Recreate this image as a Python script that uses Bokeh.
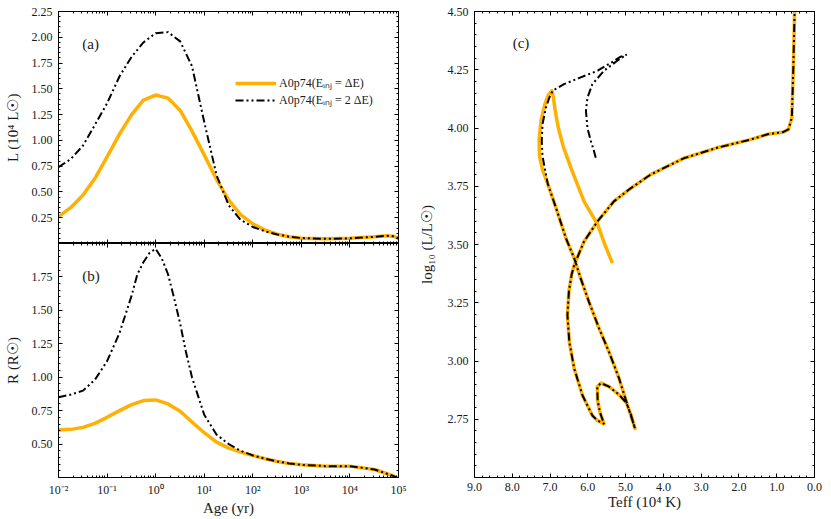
import numpy as np
from bokeh.plotting import figure
from bokeh.layouts import row, column
from bokeh.models import (LinearAxis, LogAxis, FixedTicker, PrintfTickFormatter,
                          CustomJSTickFormatter, Legend, LegendItem, Label, Range1d,
                          CustomLabelingPolicy)
from bokeh.embed import file_html
from bokeh.resources import INLINE

# ---------------- data ----------------
# panel (a): luminosity (1e4 Lsun) vs age (yr)
age_L_dE = [0.01, 0.018, 0.032, 0.056, 0.1, 0.18, 0.32, 0.56, 1.0, 1.8, 3.2, 5.6, 10, 18, 32, 56,
            100, 180, 320, 560, 1000, 3200, 1e4, 3.2e4, 5.6e4, 8e4, 1e5]
L_dE = [0.26, 0.35, 0.47, 0.63, 0.84, 1.06, 1.25, 1.39, 1.44, 1.41, 1.29, 1.09, 0.86, 0.62, 0.42, 0.28,
        0.19, 0.13, 0.09, 0.065, 0.052, 0.045, 0.05, 0.065, 0.075, 0.07, 0.05]
age_L_2dE = [0.01, 0.018, 0.032, 0.056, 0.1, 0.18, 0.32, 0.56, 1.0, 1.8, 3.2, 5.6, 10, 18, 32, 56,
             100, 180, 320, 560, 1000, 3200, 1e4, 3.2e4, 5.6e4, 8e4, 1e5]
L_2dE = [0.74, 0.82, 0.95, 1.15, 1.36, 1.62, 1.81, 1.95, 2.04, 2.05, 1.96, 1.72, 1.18, 0.66, 0.37, 0.23,
         0.16, 0.118, 0.088, 0.066, 0.053, 0.045, 0.05, 0.065, 0.075, 0.07, 0.05]

# panel (b): radius (Rsun) vs age (yr)
age_R_dE = [0.01, 0.018, 0.032, 0.056, 0.1, 0.18, 0.32, 0.56, 1.0, 1.8, 3.2, 5.6, 10, 18, 32, 56,
            100, 180, 320, 560, 1000, 3200, 1e4, 3.2e4, 5.6e4, 8e4, 1e5]
R_dE = [0.605, 0.61, 0.625, 0.655, 0.70, 0.75, 0.795, 0.825, 0.83, 0.80, 0.745, 0.665, 0.585, 0.515, 0.47, 0.44,
        0.415, 0.39, 0.37, 0.355, 0.345, 0.335, 0.335, 0.31, 0.28, 0.26, 0.24]
age_R_2dE = [0.01, 0.018, 0.032, 0.056, 0.1, 0.18, 0.32, 0.42, 0.56, 0.75, 1.0, 1.33, 1.8, 2.37, 3.2, 4.2,
             5.6, 10, 18, 32, 56, 100, 180, 320, 560, 1000, 3200, 1e4, 3.2e4, 5.6e4, 8e4, 1e5]
R_2dE = [0.85, 0.87, 0.90, 0.98, 1.12, 1.33, 1.61, 1.77, 1.86, 1.93, 1.96, 1.89, 1.77, 1.60, 1.40, 1.19,
         1.00, 0.72, 0.57, 0.50, 0.45, 0.415, 0.39, 0.37, 0.355, 0.345, 0.335, 0.335, 0.31, 0.28, 0.26, 0.24]

# panel (c): HR diagram, Teff (1e4 K) and log10 L/Lsun
teff_dE = [5.35, 5.55, 5.74, 6.10, 6.45, 6.65, 6.78, 6.86, 6.91, 6.95, 7.05, 7.14, 7.24, 7.29, 7.28, 7.20,
           7.06, 6.84, 6.58, 6.36, 6.18, 5.97, 5.70, 5.44, 5.17, 4.95, 4.75, 4.86, 4.98, 5.17, 5.44, 5.65,
           5.75, 5.74, 5.68, 5.57, 5.75, 5.88, 6.14, 6.36, 6.49, 6.54, 6.50, 6.43, 6.36, 6.10, 5.74, 5.31,
           4.91, 4.34, 3.46, 2.58, 1.70, 1.24, 0.82, 0.69, 0.60, 0.56, 0.52]
logL_dE = [3.42, 3.50, 3.585, 3.685, 3.83, 3.92, 4.00, 4.07, 4.13, 4.16, 4.14, 4.10, 4.03, 3.95, 3.88, 3.82,
           3.76, 3.656, 3.527, 3.441, 3.35, 3.254, 3.139, 3.039, 2.924, 2.81, 2.71, 2.77, 2.82, 2.855, 2.89, 2.905,
           2.89, 2.83, 2.78, 2.73, 2.745, 2.766, 2.852, 2.967, 3.082, 3.197, 3.30, 3.37, 3.412, 3.513, 3.60, 3.685,
           3.736, 3.80, 3.87, 3.915, 3.95, 3.973, 3.983, 3.994, 4.044, 4.26, 4.55]
teff_2dE = [5.79, 5.85, 5.92, 6.01, 6.05, 6.01, 5.88, 5.57, 5.22, 4.97, 5.13, 5.39, 5.74, 6.19, 6.63, 6.93,
            7.02, 7.11, 7.20, 7.22, 7.20, 7.12, 7.06,
            6.84, 6.58, 6.36, 6.18, 5.97, 5.70, 5.44, 5.17, 4.95, 4.75, 4.86, 4.98, 5.17, 5.44, 5.65,
            5.75, 5.74, 5.68, 5.57, 5.75, 5.88, 6.14, 6.36, 6.49, 6.54, 6.50, 6.43, 6.36, 6.10, 5.74, 5.31,
            4.91, 4.34, 3.46, 2.58, 1.70, 1.24, 0.82, 0.69, 0.60, 0.56, 0.52]
logL_2dE = [3.872, 3.908, 3.944, 4.00, 4.073, 4.13, 4.188, 4.246, 4.289, 4.315, 4.306, 4.28, 4.246, 4.217, 4.188, 4.16,
            4.13, 4.087, 4.016, 3.944, 3.88, 3.81, 3.76,
            3.656, 3.527, 3.441, 3.35, 3.254, 3.139, 3.039, 2.924, 2.81, 2.71, 2.77, 2.82, 2.855, 2.89, 2.905,
            2.89, 2.83, 2.78, 2.73, 2.745, 2.766, 2.852, 2.967, 3.082, 3.197, 3.30, 3.37, 3.412, 3.513, 3.60, 3.685,
            3.736, 3.80, 3.87, 3.915, 3.95, 3.973, 3.983, 3.994, 4.044, 4.26, 4.55]

label_dE = "A0p74(E\u1d62\u2099\u2c7c = \u0394E)"
label_2dE = "A0p74(E\u1d62\u2099\u2c7c = 2 \u0394E)"

# ---------------- style ----------------
FONT = "Liberation Serif"
ORANGE = "#FFB000"
TXT = "#1a1a1a"
DASH = "8 3 2 3 2 3"

log_major = [10.0 ** k for k in range(-2, 6)]
log_minor = [m * 10.0 ** k for k in range(-2, 5) for m in range(2, 10)]

SUP_JS = """
const s = {'-':'\u207b','0':'\u2070','1':'\u00b9','2':'\u00b2','3':'\u00b3','4':'\u2074',
           '5':'\u2075','6':'\u2076','7':'\u2077','8':'\u2078','9':'\u2079'};
const e = Math.round(Math.log10(tick));
return '10' + String(e).split('').map(c => s[c]).join('');
"""


def style_axis(ax, show_labels=True):
    ax.major_tick_in = 4
    ax.major_tick_out = 0
    ax.minor_tick_in = 2
    ax.minor_tick_out = 0
    ax.axis_line_color = "black"
    ax.major_tick_line_color = "black"
    ax.minor_tick_line_color = "black"
    ax.major_label_text_font = FONT
    ax.major_label_text_font_size = "12px"
    ax.major_label_text_color = TXT
    ax.major_label_standoff = 6
    ax.axis_label_text_font = FONT
    ax.axis_label_text_font_size = "15px"
    ax.axis_label_text_font_style = "normal"
    ax.axis_label_text_color = TXT
    ax.axis_label_standoff = 8
    if not show_labels:
        ax.major_label_text_font_size = "0px"
        ax.major_label_standoff = 0
        ax.axis_label = None
        ax.major_label_policy = CustomLabelingPolicy(
            code="for (const i of indices) { indices.unset(i) }\nreturn indices")


def lin_ticker(lo, hi, step, minor_step):
    major = [round(v, 4) for v in np.arange(lo, hi + 1e-9, step)]
    minor = [round(minor_step * k, 4) for k in range(0, int(round(10 / minor_step)) + 1)]
    return FixedTicker(ticks=major, minor_ticks=minor)


def make_log_axis(show_labels):
    ax = LogAxis(ticker=FixedTicker(ticks=log_major, minor_ticks=log_minor),
                 formatter=CustomJSTickFormatter(code=SUP_JS))
    style_axis(ax, show_labels)
    return ax


def base_fig(**kw):
    p = figure(output_backend="svg", toolbar_location=None, title=None,
               x_axis_location=None, y_axis_location=None, **kw)
    p.grid.visible = False
    p.outline_line_color = "black"
    p.outline_line_width = 1
    p.background_fill_color = "white"
    p.border_fill_color = "white"
    return p


x_age = Range1d(1e-2, 1e5)

# ---------------- panel (a) ----------------
p1 = base_fig(width=415, height=243, x_axis_type="log", x_range=x_age, y_range=Range1d(0, 2.25),
              min_border_left=58, min_border_right=17, min_border_top=11, min_border_bottom=0)
ya = LinearAxis(ticker=lin_ticker(0.25, 2.25, 0.25, 0.05), formatter=PrintfTickFormatter(format="%.2f"),
                axis_label="L (10\u2074 L\u2609)")
style_axis(ya)
p1.add_layout(ya, "left")
yar = LinearAxis(ticker=lin_ticker(0.25, 2.25, 0.25, 0.05))
style_axis(yar, False)
p1.add_layout(yar, "right")
p1.add_layout(make_log_axis(False), "below")
p1.add_layout(make_log_axis(False), "above")

r1 = p1.line(age_L_dE, L_dE, line_color=ORANGE, line_width=3.5, line_join="round")
r2 = p1.line(age_L_2dE, L_2dE, line_color="black", line_width=2, line_dash=DASH)
leg = Legend(items=[LegendItem(label=label_dE, renderers=[r1]),
                    LegendItem(label=label_2dE, renderers=[r2])],
             location=(177, 135), padding=0, margin=0, spacing=0,
             glyph_width=41, glyph_height=14, label_height=14, label_standoff=3,
             label_text_font=FONT, label_text_font_size="12px", label_text_color=TXT,
             border_line_alpha=0, background_fill_alpha=0)
p1.add_layout(leg)
p1.add_layout(Label(x=0.031, y=1.93, text="(a)", text_baseline="middle", text_align="left",
                    text_font=FONT, text_font_size="15px", text_color=TXT))

# ---------------- panel (b) ----------------
p2 = base_fig(width=415, height=276, x_axis_type="log", x_range=x_age, y_range=Range1d(0.25, 2.0),
              min_border_left=58, min_border_right=17, min_border_top=0, min_border_bottom=42)
yb = LinearAxis(ticker=lin_ticker(0.5, 1.75, 0.25, 0.05), formatter=PrintfTickFormatter(format="%.2f"),
                axis_label="R (R\u2609)")
style_axis(yb)
p2.add_layout(yb, "left")
ybr = LinearAxis(ticker=lin_ticker(0.5, 1.75, 0.25, 0.05))
style_axis(ybr, False)
p2.add_layout(ybr, "right")
xb = make_log_axis(True)
xb.axis_label = "Age (yr)"
xb.major_label_standoff = 5
xb.axis_label_standoff = 0
p2.add_layout(xb, "below")
p2.add_layout(make_log_axis(False), "above")
p2.line(age_R_dE, R_dE, line_color=ORANGE, line_width=3.5, line_join="round")
p2.line(age_R_2dE, R_2dE, line_color="black", line_width=2, line_dash=DASH)
p2.add_layout(Label(x=0.031, y=1.76, text="(b)", text_baseline="middle", text_align="left",
                    text_font=FONT, text_font_size="15px", text_color=TXT))

# ---------------- panel (c) ----------------
p3 = base_fig(width=416, height=519, x_range=Range1d(9, 0), y_range=Range1d(2.5, 4.5),
              min_border_left=58, min_border_right=17, min_border_top=11, min_border_bottom=42)
yc = LinearAxis(ticker=lin_ticker(2.75, 4.5, 0.25, 0.05), formatter=PrintfTickFormatter(format="%.2f"),
                axis_label="log\u2081\u2080 (L/L\u2609)")
style_axis(yc)
yc.axis_label_standoff = 10
p3.add_layout(yc, "left")
ycr = LinearAxis(ticker=lin_ticker(2.75, 4.5, 0.25, 0.05))
style_axis(ycr, False)
p3.add_layout(ycr, "right")
xc = LinearAxis(ticker=lin_ticker(0, 9, 1, 0.2), formatter=PrintfTickFormatter(format="%.1f"),
                axis_label="Teff (10\u2074 K)")
style_axis(xc)
xc.major_label_standoff = 5
xc.axis_label_standoff = 0
p3.add_layout(xc, "below")
xct = LinearAxis(ticker=lin_ticker(0, 9, 1, 0.2))
style_axis(xct, False)
p3.add_layout(xct, "above")
p3.line(teff_dE, logL_dE, line_color=ORANGE, line_width=3.5, line_join="round")
p3.line(teff_2dE, logL_2dE, line_color="black", line_width=2, line_dash=DASH)
p3.add_layout(Label(x=7.99, y=4.364, text="(c)", text_baseline="middle", text_align="left",
                    text_font=FONT, text_font_size="15px", text_color=TXT))

layout = row(column(p1, p2), p3)
open("out.html", "w").write(file_html(layout, INLINE))
